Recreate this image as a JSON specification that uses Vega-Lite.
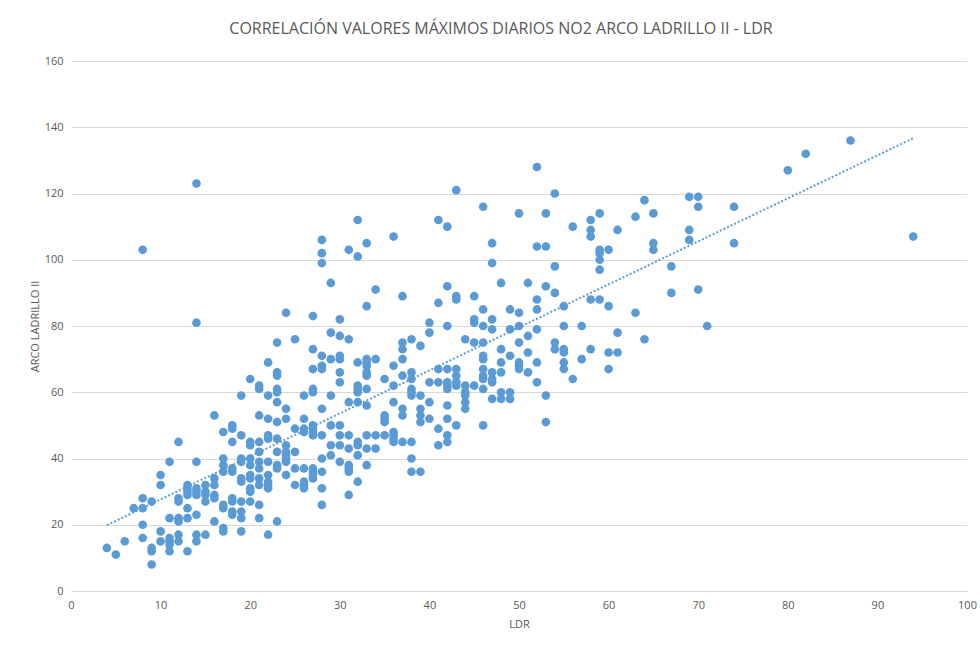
{
  "$schema": "https://vega.github.io/schema/vega-lite/v6.json",
  "width": 896,
  "height": 530,
  "autosize": {"type": "none"},
  "padding": {"left": 71, "top": 61, "right": 13, "bottom": 54},
  "background": "white",
  "title": {"text": "CORRELACIÓN VALORES MÁXIMOS DIARIOS NO2 ARCO LADRILLO II - LDR", "font": "Open Sans", "fontSize": 16, "fontWeight": "normal", "color": "#595959", "anchor": "middle", "offset": 18, "dx": -18},
  "config": {"view": {"stroke": null}, "axis": {"labelFont": "Open Sans", "titleFont": "Open Sans", "labelColor": "#595959", "titleColor": "#595959", "labelFontSize": 11, "titleFontSize": 11, "titleFontWeight": "normal"}},
  "data": {"values": [
    {"LDR":4,"ARCO":13},{"LDR":5,"ARCO":11},{"LDR":6,"ARCO":15},{"LDR":7,"ARCO":25},
    {"LDR":8,"ARCO":103},{"LDR":8,"ARCO":28},{"LDR":8,"ARCO":25},{"LDR":8,"ARCO":20},{"LDR":8,"ARCO":16},
    {"LDR":9,"ARCO":27},{"LDR":9,"ARCO":13},{"LDR":9,"ARCO":12},{"LDR":9,"ARCO":8},
    {"LDR":10,"ARCO":35},{"LDR":10,"ARCO":32},{"LDR":10,"ARCO":18},{"LDR":10,"ARCO":15},
    {"LDR":11,"ARCO":39},{"LDR":11,"ARCO":22},{"LDR":11,"ARCO":16},{"LDR":11,"ARCO":15},{"LDR":11,"ARCO":14},{"LDR":11,"ARCO":12},
    {"LDR":12,"ARCO":45},{"LDR":12,"ARCO":28},{"LDR":12,"ARCO":27},{"LDR":12,"ARCO":22},{"LDR":12,"ARCO":21},{"LDR":12,"ARCO":17},{"LDR":12,"ARCO":15},
    {"LDR":13,"ARCO":32},{"LDR":13,"ARCO":31},{"LDR":13,"ARCO":30},{"LDR":13,"ARCO":29},{"LDR":13,"ARCO":25},{"LDR":13,"ARCO":22},{"LDR":13,"ARCO":12},
    {"LDR":14,"ARCO":123},{"LDR":14,"ARCO":81},{"LDR":14,"ARCO":39},{"LDR":14,"ARCO":31},{"LDR":14,"ARCO":30},{"LDR":14,"ARCO":29},{"LDR":14,"ARCO":23},{"LDR":14,"ARCO":17},{"LDR":14,"ARCO":15},
    {"LDR":15,"ARCO":32},{"LDR":15,"ARCO":30},{"LDR":15,"ARCO":29},{"LDR":15,"ARCO":27},{"LDR":15,"ARCO":17},
    {"LDR":16,"ARCO":53},{"LDR":16,"ARCO":34},{"LDR":16,"ARCO":32},{"LDR":16,"ARCO":29},{"LDR":16,"ARCO":28},{"LDR":16,"ARCO":21},
    {"LDR":17,"ARCO":48},{"LDR":17,"ARCO":40},{"LDR":17,"ARCO":38},{"LDR":17,"ARCO":36},{"LDR":17,"ARCO":26},{"LDR":17,"ARCO":25},{"LDR":17,"ARCO":19},{"LDR":17,"ARCO":18},
    {"LDR":18,"ARCO":50},{"LDR":18,"ARCO":49},{"LDR":18,"ARCO":45},{"LDR":18,"ARCO":37},{"LDR":18,"ARCO":36},{"LDR":18,"ARCO":28},{"LDR":18,"ARCO":27},{"LDR":18,"ARCO":24},{"LDR":18,"ARCO":23},
    {"LDR":19,"ARCO":59},{"LDR":19,"ARCO":47},{"LDR":19,"ARCO":40},{"LDR":19,"ARCO":39},{"LDR":19,"ARCO":34},{"LDR":19,"ARCO":33},{"LDR":19,"ARCO":27},{"LDR":19,"ARCO":24},{"LDR":19,"ARCO":22},{"LDR":19,"ARCO":18},
    {"LDR":20,"ARCO":64},{"LDR":20,"ARCO":45},{"LDR":20,"ARCO":44},{"LDR":20,"ARCO":40},{"LDR":20,"ARCO":38},{"LDR":20,"ARCO":35},{"LDR":20,"ARCO":34},{"LDR":20,"ARCO":31},{"LDR":20,"ARCO":30},{"LDR":20,"ARCO":27},
    {"LDR":21,"ARCO":62},{"LDR":21,"ARCO":61},{"LDR":21,"ARCO":53},{"LDR":21,"ARCO":45},{"LDR":21,"ARCO":42},{"LDR":21,"ARCO":39},{"LDR":21,"ARCO":37},{"LDR":21,"ARCO":34},{"LDR":21,"ARCO":32},{"LDR":21,"ARCO":26},{"LDR":21,"ARCO":22},
    {"LDR":22,"ARCO":69},{"LDR":22,"ARCO":59},{"LDR":22,"ARCO":52},{"LDR":22,"ARCO":47},{"LDR":22,"ARCO":46},{"LDR":22,"ARCO":39},{"LDR":22,"ARCO":35},{"LDR":22,"ARCO":33},{"LDR":22,"ARCO":32},{"LDR":22,"ARCO":31},{"LDR":22,"ARCO":17},
    {"LDR":23,"ARCO":75},{"LDR":23,"ARCO":66},{"LDR":23,"ARCO":65},{"LDR":23,"ARCO":61},{"LDR":23,"ARCO":60},{"LDR":23,"ARCO":57},{"LDR":23,"ARCO":51},{"LDR":23,"ARCO":46},{"LDR":23,"ARCO":42},{"LDR":23,"ARCO":38},{"LDR":23,"ARCO":37},{"LDR":23,"ARCO":21},
    {"LDR":24,"ARCO":84},{"LDR":24,"ARCO":55},{"LDR":24,"ARCO":52},{"LDR":24,"ARCO":44},{"LDR":24,"ARCO":42},{"LDR":24,"ARCO":41},{"LDR":24,"ARCO":40},{"LDR":24,"ARCO":39},{"LDR":24,"ARCO":35},
    {"LDR":25,"ARCO":76},{"LDR":25,"ARCO":49},{"LDR":25,"ARCO":42},{"LDR":25,"ARCO":37},{"LDR":25,"ARCO":32},
    {"LDR":26,"ARCO":59},{"LDR":26,"ARCO":52},{"LDR":26,"ARCO":49},{"LDR":26,"ARCO":48},{"LDR":26,"ARCO":37},{"LDR":26,"ARCO":33},{"LDR":26,"ARCO":32},{"LDR":26,"ARCO":31},
    {"LDR":27,"ARCO":83},{"LDR":27,"ARCO":73},{"LDR":27,"ARCO":67},{"LDR":27,"ARCO":61},{"LDR":27,"ARCO":60},{"LDR":27,"ARCO":50},{"LDR":27,"ARCO":49},{"LDR":27,"ARCO":48},{"LDR":27,"ARCO":47},{"LDR":27,"ARCO":37},{"LDR":27,"ARCO":36},{"LDR":27,"ARCO":35},{"LDR":27,"ARCO":34},
    {"LDR":28,"ARCO":106},{"LDR":28,"ARCO":102},{"LDR":28,"ARCO":99},{"LDR":28,"ARCO":71},{"LDR":28,"ARCO":68},{"LDR":28,"ARCO":67},{"LDR":28,"ARCO":55},{"LDR":28,"ARCO":47},{"LDR":28,"ARCO":40},{"LDR":28,"ARCO":36},{"LDR":28,"ARCO":31},{"LDR":28,"ARCO":26},
    {"LDR":29,"ARCO":93},{"LDR":29,"ARCO":78},{"LDR":29,"ARCO":70},{"LDR":29,"ARCO":59},{"LDR":29,"ARCO":50},{"LDR":29,"ARCO":44},{"LDR":29,"ARCO":41},
    {"LDR":30,"ARCO":82},{"LDR":30,"ARCO":77},{"LDR":30,"ARCO":71},{"LDR":30,"ARCO":70},{"LDR":30,"ARCO":66},{"LDR":30,"ARCO":63},{"LDR":30,"ARCO":50},{"LDR":30,"ARCO":47},{"LDR":30,"ARCO":44},{"LDR":30,"ARCO":39},
    {"LDR":31,"ARCO":103},{"LDR":31,"ARCO":76},{"LDR":31,"ARCO":57},{"LDR":31,"ARCO":47},{"LDR":31,"ARCO":43},{"LDR":31,"ARCO":38},{"LDR":31,"ARCO":37},{"LDR":31,"ARCO":36},{"LDR":31,"ARCO":29},
    {"LDR":32,"ARCO":112},{"LDR":32,"ARCO":101},{"LDR":32,"ARCO":69},{"LDR":32,"ARCO":62},{"LDR":32,"ARCO":61},{"LDR":32,"ARCO":60},{"LDR":32,"ARCO":57},{"LDR":32,"ARCO":45},{"LDR":32,"ARCO":44},{"LDR":32,"ARCO":41},{"LDR":32,"ARCO":33},
    {"LDR":33,"ARCO":105},{"LDR":33,"ARCO":86},{"LDR":33,"ARCO":70},{"LDR":33,"ARCO":69},{"LDR":33,"ARCO":68},{"LDR":33,"ARCO":66},{"LDR":33,"ARCO":65},{"LDR":33,"ARCO":61},{"LDR":33,"ARCO":56},{"LDR":33,"ARCO":47},{"LDR":33,"ARCO":43},{"LDR":33,"ARCO":38},
    {"LDR":34,"ARCO":91},{"LDR":34,"ARCO":70},{"LDR":34,"ARCO":47},{"LDR":34,"ARCO":43},
    {"LDR":35,"ARCO":64},{"LDR":35,"ARCO":53},{"LDR":35,"ARCO":52},{"LDR":35,"ARCO":51},{"LDR":35,"ARCO":47},
    {"LDR":36,"ARCO":107},{"LDR":36,"ARCO":68},{"LDR":36,"ARCO":62},{"LDR":36,"ARCO":57},{"LDR":36,"ARCO":48},{"LDR":36,"ARCO":47},{"LDR":36,"ARCO":46},{"LDR":36,"ARCO":45},
    {"LDR":37,"ARCO":89},{"LDR":37,"ARCO":75},{"LDR":37,"ARCO":73},{"LDR":37,"ARCO":70},{"LDR":37,"ARCO":65},{"LDR":37,"ARCO":55},{"LDR":37,"ARCO":53},{"LDR":37,"ARCO":45},
    {"LDR":38,"ARCO":76},{"LDR":38,"ARCO":66},{"LDR":38,"ARCO":64},{"LDR":38,"ARCO":61},{"LDR":38,"ARCO":60},{"LDR":38,"ARCO":59},{"LDR":38,"ARCO":45},{"LDR":38,"ARCO":40},{"LDR":38,"ARCO":36},
    {"LDR":39,"ARCO":74},{"LDR":39,"ARCO":59},{"LDR":39,"ARCO":55},{"LDR":39,"ARCO":53},{"LDR":39,"ARCO":51},{"LDR":39,"ARCO":36},
    {"LDR":40,"ARCO":81},{"LDR":40,"ARCO":78},{"LDR":40,"ARCO":63},{"LDR":40,"ARCO":57},{"LDR":40,"ARCO":52},
    {"LDR":41,"ARCO":112},{"LDR":41,"ARCO":87},{"LDR":41,"ARCO":67},{"LDR":41,"ARCO":63},{"LDR":41,"ARCO":49},{"LDR":41,"ARCO":44},
    {"LDR":42,"ARCO":110},{"LDR":42,"ARCO":92},{"LDR":42,"ARCO":80},{"LDR":42,"ARCO":67},{"LDR":42,"ARCO":63},{"LDR":42,"ARCO":62},{"LDR":42,"ARCO":61},{"LDR":42,"ARCO":56},{"LDR":42,"ARCO":52},{"LDR":42,"ARCO":47},{"LDR":42,"ARCO":45},
    {"LDR":43,"ARCO":121},{"LDR":43,"ARCO":89},{"LDR":43,"ARCO":88},{"LDR":43,"ARCO":67},{"LDR":43,"ARCO":65},{"LDR":43,"ARCO":63},{"LDR":43,"ARCO":62},{"LDR":43,"ARCO":50},
    {"LDR":44,"ARCO":76},{"LDR":44,"ARCO":62},{"LDR":44,"ARCO":60},{"LDR":44,"ARCO":59},{"LDR":44,"ARCO":57},{"LDR":44,"ARCO":55},
    {"LDR":45,"ARCO":89},{"LDR":45,"ARCO":82},{"LDR":45,"ARCO":81},{"LDR":45,"ARCO":75},{"LDR":45,"ARCO":62},
    {"LDR":46,"ARCO":116},{"LDR":46,"ARCO":85},{"LDR":46,"ARCO":80},{"LDR":46,"ARCO":75},{"LDR":46,"ARCO":71},{"LDR":46,"ARCO":70},{"LDR":46,"ARCO":67},{"LDR":46,"ARCO":65},{"LDR":46,"ARCO":64},{"LDR":46,"ARCO":61},{"LDR":46,"ARCO":50},
    {"LDR":47,"ARCO":105},{"LDR":47,"ARCO":99},{"LDR":47,"ARCO":82},{"LDR":47,"ARCO":79},{"LDR":47,"ARCO":66},{"LDR":47,"ARCO":64},{"LDR":47,"ARCO":63},{"LDR":47,"ARCO":58},
    {"LDR":48,"ARCO":93},{"LDR":48,"ARCO":73},{"LDR":48,"ARCO":69},{"LDR":48,"ARCO":66},{"LDR":48,"ARCO":60},{"LDR":48,"ARCO":58},
    {"LDR":49,"ARCO":85},{"LDR":49,"ARCO":79},{"LDR":49,"ARCO":71},{"LDR":49,"ARCO":60},{"LDR":49,"ARCO":58},
    {"LDR":50,"ARCO":114},{"LDR":50,"ARCO":84},{"LDR":50,"ARCO":80},{"LDR":50,"ARCO":75},{"LDR":50,"ARCO":69},{"LDR":50,"ARCO":68},{"LDR":50,"ARCO":67},
    {"LDR":51,"ARCO":93},{"LDR":51,"ARCO":77},{"LDR":51,"ARCO":72},{"LDR":51,"ARCO":66},
    {"LDR":52,"ARCO":128},{"LDR":52,"ARCO":104},{"LDR":52,"ARCO":88},{"LDR":52,"ARCO":85},{"LDR":52,"ARCO":79},{"LDR":52,"ARCO":69},{"LDR":52,"ARCO":63},
    {"LDR":53,"ARCO":114},{"LDR":53,"ARCO":104},{"LDR":53,"ARCO":92},{"LDR":53,"ARCO":59},{"LDR":53,"ARCO":51},
    {"LDR":54,"ARCO":120},{"LDR":54,"ARCO":98},{"LDR":54,"ARCO":90},{"LDR":54,"ARCO":75},{"LDR":54,"ARCO":73},
    {"LDR":55,"ARCO":86},{"LDR":55,"ARCO":80},{"LDR":55,"ARCO":73},{"LDR":55,"ARCO":72},{"LDR":55,"ARCO":69},{"LDR":55,"ARCO":67},
    {"LDR":56,"ARCO":110},{"LDR":56,"ARCO":64},
    {"LDR":57,"ARCO":80},{"LDR":57,"ARCO":70},
    {"LDR":58,"ARCO":112},{"LDR":58,"ARCO":109},{"LDR":58,"ARCO":107},{"LDR":58,"ARCO":88},{"LDR":58,"ARCO":73},
    {"LDR":59,"ARCO":114},{"LDR":59,"ARCO":103},{"LDR":59,"ARCO":102},{"LDR":59,"ARCO":100},{"LDR":59,"ARCO":97},{"LDR":59,"ARCO":88},
    {"LDR":60,"ARCO":103},{"LDR":60,"ARCO":86},{"LDR":60,"ARCO":72},{"LDR":60,"ARCO":67},
    {"LDR":61,"ARCO":109},{"LDR":61,"ARCO":78},{"LDR":61,"ARCO":72},
    {"LDR":63,"ARCO":113},{"LDR":63,"ARCO":84},
    {"LDR":64,"ARCO":118},{"LDR":64,"ARCO":76},
    {"LDR":65,"ARCO":114},{"LDR":65,"ARCO":105},{"LDR":65,"ARCO":103},
    {"LDR":67,"ARCO":98},{"LDR":67,"ARCO":90},
    {"LDR":69,"ARCO":119},{"LDR":69,"ARCO":109},{"LDR":69,"ARCO":106},
    {"LDR":70,"ARCO":119},{"LDR":70,"ARCO":116},{"LDR":70,"ARCO":91},
    {"LDR":71,"ARCO":80},
    {"LDR":74,"ARCO":116},{"LDR":74,"ARCO":105},
    {"LDR":80,"ARCO":127},{"LDR":82,"ARCO":132},{"LDR":87,"ARCO":136},{"LDR":94,"ARCO":107}
  ]},
  "layer": [
    {
      "mark": {"type": "point", "filled": true, "opacity": 1, "size": 75, "color": "#5b9bd5"},
      "encoding": {
        "x": {"field": "LDR", "type": "quantitative", "scale": {"domain": [0, 100], "nice": false}, "axis": {"title": "LDR", "values": [0,10,20,30,40,50,60,70,80,90,100], "grid": false, "ticks": false, "labelFlush": false, "domainColor": "#d9d9d9", "labelPadding": 8, "titlePadding": 8}},
        "y": {"field": "ARCO", "type": "quantitative", "scale": {"domain": [0, 160], "nice": false}, "axis": {"title": "ARCO LADRILLO II", "values": [0,20,40,60,80,100,120,140,160], "gridColor": "#d9d9d9", "ticks": false, "domain": false, "labelFlush": false, "labelPadding": 8, "titlePadding": 4}}
      }
    },
    {
      "transform": [{"regression": "ARCO", "on": "LDR"}],
      "mark": {"type": "line", "color": "#5b9bd5", "strokeWidth": 2, "strokeDash": [2, 2]},
      "encoding": {
        "x": {"field": "LDR", "type": "quantitative"},
        "y": {"field": "ARCO", "type": "quantitative"}
      }
    }
  ]
}
